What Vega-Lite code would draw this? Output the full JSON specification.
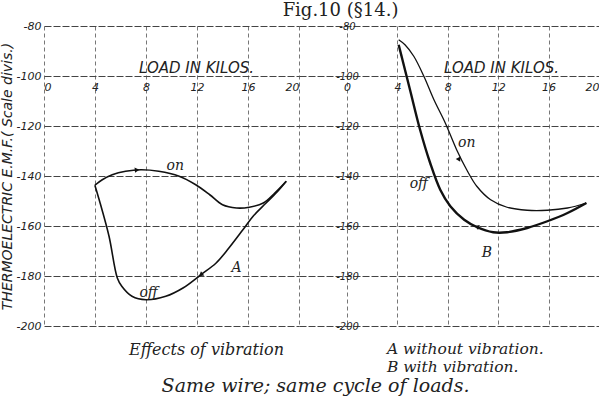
{
  "$schema": "https://vega.github.io/schema/vega-lite/v6.json",
  "background": "white",
  "padding": {"left": 0, "top": 2, "right": 0, "bottom": 0},
  "config": {"view": {"stroke": null}},
  "title": {"text": "Same wire; same cycle of loads.", "orient": "bottom", "font": "DejaVu Serif", "fontStyle": "italic", "fontWeight": "normal", "fontSize": 19, "color": "#222", "anchor": "middle", "dx": 16, "offset": 1},
  "datasets": {
    "curves": [
      {"panel": "A", "phase": "on", "i": 0, "load": 3.99, "emf": -143.7},
      {"panel": "A", "phase": "on", "i": 1, "load": 4.57, "emf": -141.5},
      {"panel": "A", "phase": "on", "i": 2, "load": 5.35, "emf": -139.5},
      {"panel": "A", "phase": "on", "i": 3, "load": 6.4, "emf": -138.1},
      {"panel": "A", "phase": "on", "i": 4, "load": 7.6, "emf": -137.5},
      {"panel": "A", "phase": "on", "i": 5, "load": 9.0, "emf": -138.1},
      {"panel": "A", "phase": "on", "i": 6, "load": 10.6, "emf": -140.1},
      {"panel": "A", "phase": "on", "i": 7, "load": 11.9, "emf": -143.5},
      {"panel": "A", "phase": "on", "i": 8, "load": 13.0, "emf": -147.5},
      {"panel": "A", "phase": "on", "i": 9, "load": 14.0, "emf": -151.5},
      {"panel": "A", "phase": "on", "i": 10, "load": 15.1, "emf": -152.8},
      {"panel": "A", "phase": "on", "i": 11, "load": 16.1, "emf": -152.5},
      {"panel": "A", "phase": "on", "i": 12, "load": 17.2, "emf": -150.8},
      {"panel": "A", "phase": "on", "i": 13, "load": 18.1, "emf": -146.8},
      {"panel": "A", "phase": "on", "i": 14, "load": 19.0, "emf": -142.1},
      {"panel": "A", "phase": "off", "i": 0, "load": 19.0, "emf": -142.1},
      {"panel": "A", "phase": "off", "i": 1, "load": 18.3, "emf": -146.3},
      {"panel": "A", "phase": "off", "i": 2, "load": 17.4, "emf": -150.9},
      {"panel": "A", "phase": "off", "i": 3, "load": 16.4, "emf": -156.1},
      {"panel": "A", "phase": "off", "i": 4, "load": 15.6, "emf": -161.5},
      {"panel": "A", "phase": "off", "i": 5, "load": 14.5, "emf": -168.8},
      {"panel": "A", "phase": "off", "i": 6, "load": 13.5, "emf": -174.8},
      {"panel": "A", "phase": "off", "i": 7, "load": 12.3, "emf": -179.5},
      {"panel": "A", "phase": "off", "i": 8, "load": 10.9, "emf": -184.8},
      {"panel": "A", "phase": "off", "i": 9, "load": 9.55, "emf": -188.1},
      {"panel": "A", "phase": "off", "i": 10, "load": 8.0, "emf": -189.5},
      {"panel": "A", "phase": "off", "i": 11, "load": 6.9, "emf": -188.1},
      {"panel": "A", "phase": "off", "i": 12, "load": 6.1, "emf": -184.1},
      {"panel": "A", "phase": "off", "i": 13, "load": 5.75, "emf": -180.8},
      {"panel": "A", "phase": "off", "i": 14, "load": 5.1, "emf": -164.1},
      {"panel": "A", "phase": "off", "i": 15, "load": 4.4, "emf": -150.8},
      {"panel": "A", "phase": "off", "i": 16, "load": 3.99, "emf": -143.7},
      {"panel": "B", "phase": "on", "i": 0, "load": 4.1, "emf": -85.5},
      {"panel": "B", "phase": "on", "i": 1, "load": 4.6, "emf": -87.5},
      {"panel": "B", "phase": "on", "i": 2, "load": 5.3, "emf": -92.1},
      {"panel": "B", "phase": "on", "i": 3, "load": 6.1, "emf": -100.1},
      {"panel": "B", "phase": "on", "i": 4, "load": 6.9, "emf": -109.5},
      {"panel": "B", "phase": "on", "i": 5, "load": 7.8, "emf": -118.8},
      {"panel": "B", "phase": "on", "i": 6, "load": 8.7, "emf": -129.5},
      {"panel": "B", "phase": "on", "i": 7, "load": 9.5, "emf": -137.5},
      {"panel": "B", "phase": "on", "i": 8, "load": 10.3, "emf": -144.1},
      {"panel": "B", "phase": "on", "i": 9, "load": 11.4, "emf": -149.5},
      {"panel": "B", "phase": "on", "i": 10, "load": 12.7, "emf": -152.5},
      {"panel": "B", "phase": "on", "i": 11, "load": 14.3, "emf": -153.7},
      {"panel": "B", "phase": "on", "i": 12, "load": 15.9, "emf": -153.7},
      {"panel": "B", "phase": "on", "i": 13, "load": 17.5, "emf": -152.8},
      {"panel": "B", "phase": "on", "i": 14, "load": 19.0, "emf": -150.8},
      {"panel": "B", "phase": "off", "i": 0, "load": 19.0, "emf": -150.8},
      {"panel": "B", "phase": "off", "i": 1, "load": 17.5, "emf": -154.8},
      {"panel": "B", "phase": "off", "i": 2, "load": 15.9, "emf": -158.1},
      {"panel": "B", "phase": "off", "i": 3, "load": 14.3, "emf": -160.8},
      {"panel": "B", "phase": "off", "i": 4, "load": 12.7, "emf": -162.5},
      {"panel": "B", "phase": "off", "i": 5, "load": 11.6, "emf": -162.5},
      {"panel": "B", "phase": "off", "i": 6, "load": 10.3, "emf": -160.4},
      {"panel": "B", "phase": "off", "i": 7, "load": 9.3, "emf": -157.5},
      {"panel": "B", "phase": "off", "i": 8, "load": 8.2, "emf": -152.1},
      {"panel": "B", "phase": "off", "i": 9, "load": 7.4, "emf": -145.5},
      {"panel": "B", "phase": "off", "i": 10, "load": 6.6, "emf": -134.8},
      {"panel": "B", "phase": "off", "i": 11, "load": 5.8, "emf": -121.5},
      {"panel": "B", "phase": "off", "i": 12, "load": 5.0, "emf": -105.5},
      {"panel": "B", "phase": "off", "i": 13, "load": 4.4, "emf": -93.5},
      {"panel": "B", "phase": "off", "i": 14, "load": 4.1, "emf": -87.5}
    ],
    "arrows": [
      {"panel": "A", "phase": "on", "load": 7.3, "emf": -137.6},
      {"panel": "A", "phase": "off", "load": 12.3, "emf": -179.5},
      {"panel": "B", "phase": "on", "load": 8.9, "emf": -133.5},
      {"panel": "B", "phase": "off", "load": 10.3, "emf": -160.3}
    ],
    "labels": [
      {"panel": "A", "load": 10.3, "emf": -135.9, "text": "on"},
      {"panel": "A", "load": 8.2, "emf": -186.8, "text": "off"},
      {"panel": "A", "load": 15.1, "emf": -176.8, "text": "A"},
      {"panel": "B", "load": 9.5, "emf": -126.8, "text": "on"},
      {"panel": "B", "load": 5.7, "emf": -143.0, "text": "off"},
      {"panel": "B", "load": 11.1, "emf": -170.8, "text": "B"}
    ]
  },
  "vconcat": [
    {
      "title": {"text": "Fig.10  (§14.)", "font": "DejaVu Serif", "fontSize": 18, "fontWeight": "normal", "anchor": "middle", "dx": 41, "offset": 0, "color": "#222"},
      "spacing": 0,
      "hconcat": [
        {
          "width": 255,
          "height": 300,
          "title": {"text": "Effects of vibration", "orient": "bottom", "frame": "group", "anchor": "middle", "dx": 35, "offset": 11, "font": "DejaVu Serif", "fontStyle": "italic", "fontWeight": "normal", "fontSize": 16, "color": "#222"},
          "encoding": {
            "x": {"field": "load", "type": "quantitative", "scale": {"domain": [0, 20], "nice": false, "zero": false},
              "axis": {"orient": "bottom", "offset": -250, "values": [0, 4, 8, 12, 16, 20], "domain": false, "ticks": false, "tickSize": 0, "labelPadding": 5, "labelFont": "DejaVu Sans", "labelFontStyle": "italic", "labelFontSize": 11, "labelColor": "#222",
                "grid": true, "gridColor": "#777", "gridDash": [4, 3], "gridWidth": 1,
                "title": "LOAD IN KILOS.", "titleFont": "DejaVu Sans", "titleFontStyle": "italic", "titleFontWeight": "normal", "titleFontSize": 15, "titleColor": "#222", "titleX": 152, "titleY": -4, "titleAlign": "center", "titleBaseline": "alphabetic"}},
            "y": {"field": "emf", "type": "quantitative", "scale": {"domain": [-200, -80], "nice": false, "zero": false},
              "axis": {"values": [-80, -100, -120, -140, -160, -180, -200], "labelExpr": "'-' + abs(datum.value)", "domain": false, "ticks": false, "tickSize": 0, "labelPadding": 3, "labelFont": "DejaVu Sans", "labelFontStyle": "italic", "labelFontSize": 11, "labelColor": "#222",
                "grid": true, "gridColor": "#444", "gridDash": [7, 2], "gridWidth": 1,
                "title": "THERMOELECTRIC  E.M.F.( Scale divis.)", "titleFont": "DejaVu Sans", "titleFontStyle": "italic", "titleFontWeight": "normal", "titleFontSize": 14, "titleColor": "#222", "titlePadding": 2}}
          },
          "layer": [
            {
              "data": {"name": "curves"},
              "transform": [{"filter": "datum.panel == 'A'"}],
              "mark": {"type": "line", "interpolate": "catmull-rom", "color": "#111", "strokeWidth": 1.6},
              "encoding": {"detail": {"field": "phase"}, "order": {"field": "i", "type": "quantitative"}}
            },
            {
              "data": {"name": "arrows"},
              "transform": [{"filter": "datum.panel == 'A' && datum.phase == 'on'"}],
              "mark": {"type": "point", "shape": "triangle-up", "filled": true, "color": "#111", "size": 28, "angle": 84, "opacity": 1}
            },
            {
              "data": {"name": "arrows"},
              "transform": [{"filter": "datum.panel == 'A' && datum.phase == 'off'"}],
              "mark": {"type": "point", "shape": "triangle-up", "filled": true, "color": "#111", "size": 28, "angle": 232, "opacity": 1}
            },
            {
              "data": {"name": "labels"},
              "transform": [{"filter": "datum.panel == 'A'"}],
              "mark": {"type": "text", "font": "DejaVu Serif", "fontStyle": "italic", "fontSize": 14, "color": "#222"},
              "encoding": {"text": {"field": "text"}}
            }
          ]
        },
        {
          "width": 300,
          "height": 300,
          "title": {"text": ["A  without vibration.", "B  with vibration."], "orient": "bottom", "frame": "group", "anchor": "start", "align": "left", "dx": 88, "offset": 11, "lineHeight": 18, "font": "DejaVu Serif", "fontStyle": "italic", "fontWeight": "normal", "fontSize": 15.5, "color": "#222"},
          "encoding": {
            "x": {"field": "load", "type": "quantitative", "scale": {"domain": [-3.81, 20], "nice": false, "zero": false},
              "axis": {"orient": "bottom", "offset": -250, "values": [0, 4, 8, 12, 16, 20], "domain": false, "ticks": false, "tickSize": 0, "labelPadding": 5, "labelFont": "DejaVu Sans", "labelFontStyle": "italic", "labelFontSize": 11, "labelColor": "#222",
                "grid": true, "gridColor": "#777", "gridDash": [4, 3], "gridWidth": 1,
                "title": "LOAD IN KILOS.", "titleFont": "DejaVu Sans", "titleFontStyle": "italic", "titleFontWeight": "normal", "titleFontSize": 15, "titleColor": "#222", "titleX": 202, "titleY": -4, "titleAlign": "center", "titleBaseline": "alphabetic"}},
            "y": {"field": "emf", "type": "quantitative", "scale": {"domain": [-200, -80], "nice": false, "zero": false},
              "axis": {"orient": "left", "offset": -48, "values": [-80, -100, -120, -140, -160, -180, -200], "labelExpr": "'-' + abs(datum.value)", "domain": false, "ticks": false, "tickSize": 0, "labelPadding": 0, "labelAlign": "center", "labelFont": "DejaVu Sans", "labelFontStyle": "italic", "labelFontSize": 10, "labelColor": "#222",
                "grid": true, "gridColor": "#444", "gridDash": [7, 2], "gridWidth": 1, "title": null}}
          },
          "layer": [
            {
              "data": {"name": "curves"},
              "transform": [{"filter": "datum.panel == 'B'"}],
              "mark": {"type": "line", "interpolate": "catmull-rom", "color": "#111"},
              "encoding": {"detail": {"field": "phase"}, "order": {"field": "i", "type": "quantitative"},
                "strokeWidth": {"field": "phase", "type": "nominal", "scale": {"domain": ["on", "off"], "range": [1.3, 2.4]}, "legend": null}}
            },
            {
              "data": {"name": "arrows"},
              "transform": [{"filter": "datum.panel == 'B' && datum.phase == 'on'"}],
              "mark": {"type": "point", "shape": "triangle-up", "filled": true, "color": "#111", "size": 28, "angle": 153, "opacity": 1}
            },
            {
              "data": {"name": "arrows"},
              "transform": [{"filter": "datum.panel == 'B' && datum.phase == 'off'"}],
              "mark": {"type": "point", "shape": "triangle-up", "filled": true, "color": "#111", "size": 28, "angle": 288, "opacity": 1}
            },
            {
              "data": {"name": "labels"},
              "transform": [{"filter": "datum.panel == 'B'"}],
              "mark": {"type": "text", "font": "DejaVu Serif", "fontStyle": "italic", "fontSize": 14, "color": "#222"},
              "encoding": {"text": {"field": "text"}}
            }
          ]
        }
      ]
    }
  ]
}
